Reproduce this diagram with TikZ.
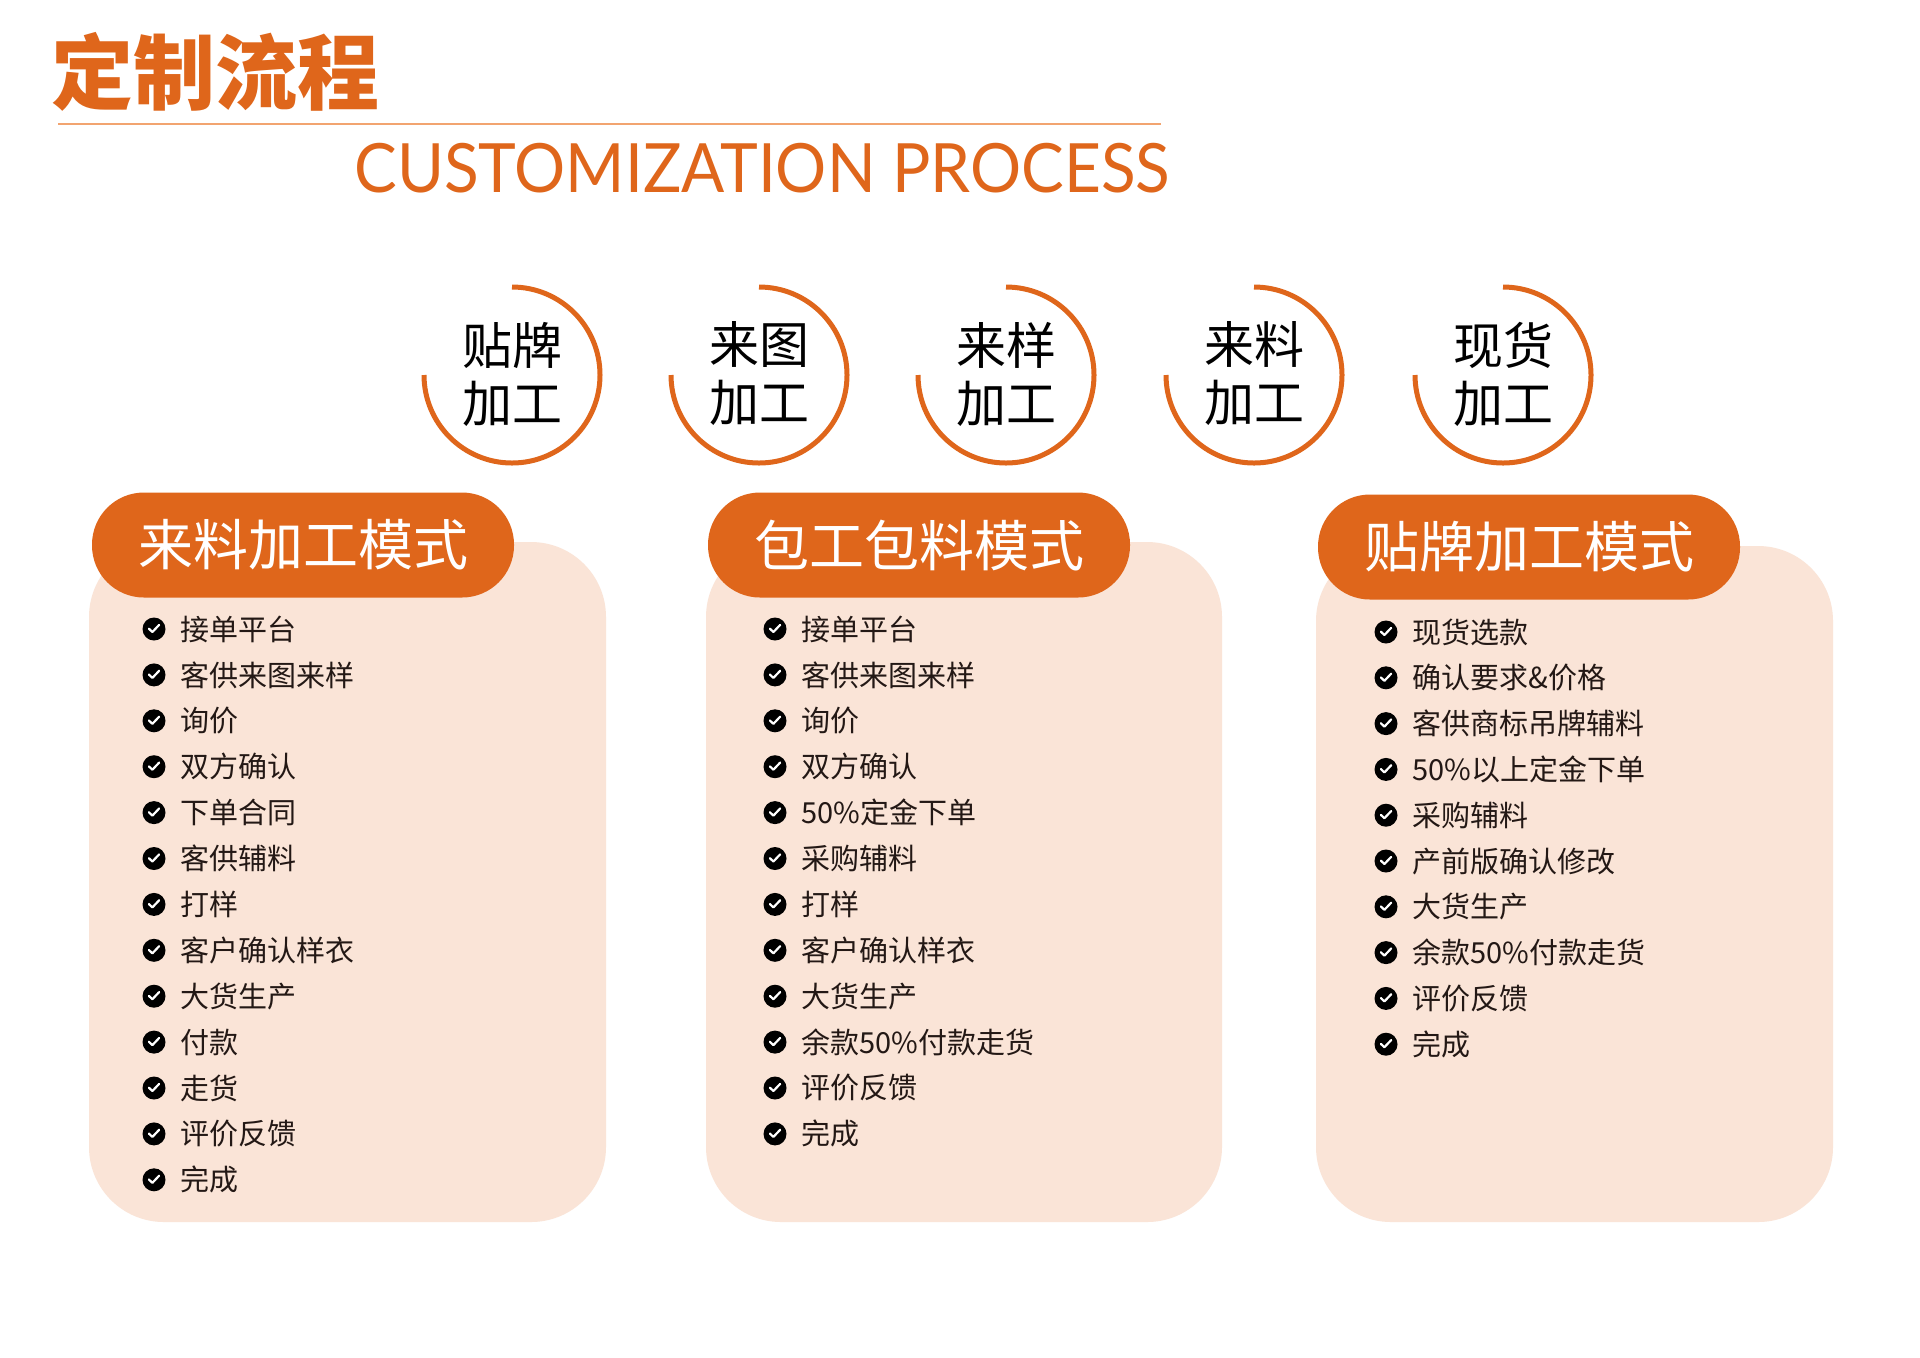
\documentclass[tikz,border=0pt]{standalone}
\usepackage{fontspec}
\setmainfont{Noto Sans CJK SC}
\newfontfamily\latinfont{Lato}
\usetikzlibrary{positioning}
\usepackage{xcolor}
\definecolor{brand}{HTML}{DF661B}
\definecolor{peach}{HTML}{FAE4D7}
\definecolor{ruleorange}{HTML}{F2A470}
\definecolor{ink}{HTML}{231815}

\begin{document}
\begin{tikzpicture}[
    x=0.5pt, y=-0.5pt,
    title/.style={font=\fontsize{41}{44}\selectfont\bfseries, text=brand, inner sep=0pt},
    subtitle/.style={font=\latinfont\fontsize{34}{36}\selectfont, text=brand, inner sep=0pt, anchor=base west, xscale=0.94},
    ring/.style={draw=brand, line width=2.5pt},
    ringtext/.style={font=\fontsize{25}{29}\selectfont, align=center, text=black, inner sep=0pt},
    panel/.style={fill=peach, rounded corners=37.5pt},
    header/.style={fill=brand, text=white, rounded corners=26pt, minimum width=211pt,
        minimum height=52.5pt, font=\fontsize{27.5}{30}\selectfont},
    tick/.style={circle, fill=black, minimum size=11.5pt, inner sep=0pt,
        path picture={\draw[white, line width=1.1pt, line cap=round, line join=round]
            ([xshift=-2.6pt, yshift=0.2pt]path picture bounding box.center) -- ++(1.8pt,-1.7pt) -- ++(3.4pt,3.6pt);}},
    item/.style={font=\fontsize{14.5}{16}\selectfont, text=ink, inner sep=0pt, anchor=west},
]

\useasboundingbox (0,0) rectangle (1920,1357);
\fill[white] (0,0) rectangle (1920,1357);

% === Tiêu đề ===
\node[title] (ttl) at (215,72) {定制流程};
\coordinate (rl) at (58,124);
\coordinate (rr) at (1161,124);
\draw[ruleorange, line width=1.1pt] (rl) -- (rr);
\node[subtitle] (sub) at (354,192) {CUSTOMIZATION PROCESS};

% === Vòng tròn ===
\foreach \cx/\a/\b [count=\k] in {512/贴牌/加工, 759/来图/加工, 1006/来样/加工, 1254/来料/加工, 1503/现货/加工} {
    \node[ringtext] (m\k) at (\cx,374) {\a\\\b};
    \draw[ring] (\cx,287) arc[start angle=-90, end angle=180, radius=88];
}

% === Khung nền ===
\fill[panel] (89,542) rectangle (606,1222);
\fill[panel] (706,542) rectangle (1222,1222);
\fill[panel] (1316,546) rectangle (1833,1222);

% === Nhãn mô hình ===
\node[header] (h1) at (303,545) {来料加工模式};
\node[header] (h2) at (919,545) {包工包料模式};
\node[header] (h3) at (1529,547) {贴牌加工模式};

% === Danh sách 1 ===
\foreach \t [count=\i] in {接单平台, 客供来图来样, 询价, 双方确认, 下单合同, 客供辅料, 打样,
    客户确认样衣, 大货生产, 付款, 走货, 评价反馈, 完成} {
    \node[tick] (a\i) at (154, {629+45.9*(\i-1)}) {};
    \node[item, right=7pt of a\i] (at\i) {\t};
}

% === Danh sách 2 ===
\foreach \t [count=\i] in {接单平台, 客供来图来样, 询价, 双方确认, 50\%定金下单, 采购辅料, 打样,
    客户确认样衣, 大货生产, 余款50\%付款走货, 评价反馈, 完成} {
    \node[tick] (b\i) at (775, {629+45.9*(\i-1)}) {};
    \node[item, right=7pt of b\i] (bt\i) {\t};
}

% === Danh sách 3 ===
\foreach \t [count=\i] in {现货选款, 确认要求\&价格, 客供商标吊牌辅料, 50\%以上定金下单, 采购辅料,
    产前版确认修改, 大货生产, 余款50\%付款走货, 评价反馈, 完成} {
    \node[tick] (c\i) at (1386, {632+45.8*(\i-1)}) {};
    \node[item, right=7pt of c\i] (ct\i) {\t};
}

\end{tikzpicture}
\end{document}
